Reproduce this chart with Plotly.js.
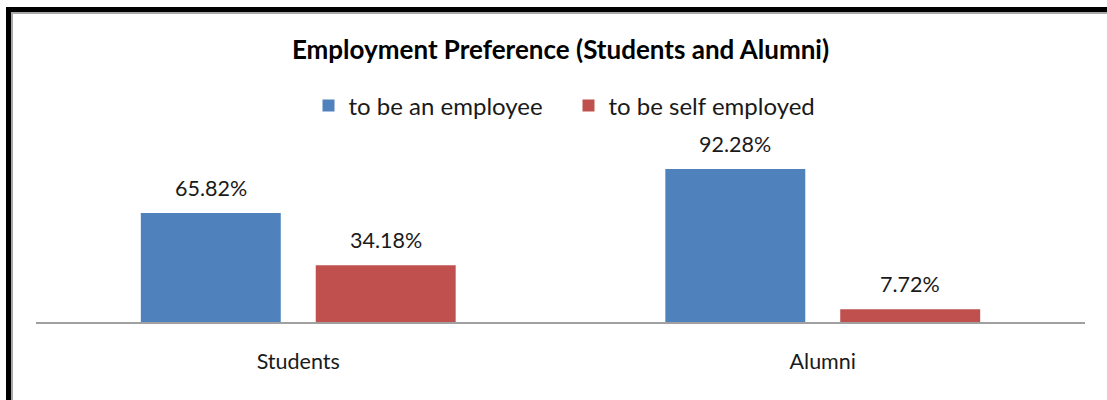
<!DOCTYPE html>
<html>
<head>
<meta charset="utf-8">
<script src="https://cdn.plot.ly/plotly-3.0.1.min.js"></script>
<style>
  html, body { margin: 0; padding: 0; background: #ffffff; }
  #wrap { position: relative; width: 1107px; height: 400px; overflow: hidden; background: #fff; }
  #frame { position: absolute; left: 6px; top: 7px; width: 1110px; height: 391px;
           border-left: 5px solid #000; border-top: 5px solid #000;
           border-bottom: 1px solid #dedede;
           box-shadow: inset 2px 2px 0 #a8a8a8; }
  #chart { position: absolute; left: 0; top: 0; width: 1107px; height: 400px; }
</style>
</head>
<body>
<div id="wrap">
  <div id="frame"></div>
  <div id="chart"></div>
</div>
<script>
const categories = ["Students", "Alumni"];
const seriesNames = ["to be an employee", "to be self employed"];
const employeeValues = [65.82, 92.28];
const selfEmployedValues = [34.18, 7.72];
const seriesColors = ["#4F81BD", "#C0504D"];

const FONT = "Lato, 'Open Sans', sans-serif";
const bargap = 0.333, bargroupgap = 0.2;

const traces = [
  { type: "bar", name: seriesNames[0], x: categories, y: employeeValues,
    marker: { color: seriesColors[0] }, hoverinfo: "skip" },
  { type: "bar", name: seriesNames[1], x: categories, y: selfEmployedValues,
    marker: { color: seriesColors[1] }, hoverinfo: "skip" }
];

// value labels derived from the data; bar centre offset within a category
const slot = (1 - bargap) / 2;
const annotations = [];
[employeeValues, selfEmployedValues].forEach((vals, s) => {
  vals.forEach((v, i) => {
    annotations.push({
      x: i + (s === 0 ? -slot / 2 : slot / 2), y: v, xref: "x", yref: "y",
      text: v.toFixed(2) + "%", showarrow: false, yanchor: "bottom", yshift: 10,
      font: { family: FONT, size: 21.5, color: "#1a1a1a" }
    });
  });
});

const layout = {
  width: 1107, height: 400,
  margin: { l: 36, r: 22, t: 140, b: 78 },
  paper_bgcolor: "rgba(0,0,0,0)", plot_bgcolor: "rgba(0,0,0,0)",
  title: { text: "<b>Employment Preference (Students and Alumni)</b>",
           font: { family: FONT, size: 26, color: "#000" },
           x: 0.5, xref: "paper", xanchor: "center", y: 1 - 50 / 400, yanchor: "middle" },
  barmode: "group", bargap: bargap, bargroupgap: bargroupgap,
  showlegend: true,
  legend: { orientation: "h", x: 0.5 + 8 / 1049, xanchor: "center", y: 1.0 + (140 - 106) / 182, yanchor: "middle",
            font: { family: FONT, size: 24, color: "#1a1a1a" }, traceorder: "normal",
            tracegroupgap: 0, entrywidth: 215, entrywidthmode: "pixels" },
  xaxis: { type: "category", showline: true, linecolor: "#a0a0a0", linewidth: 1.5,
           ticks: "", ticklabelstandoff: 20, showgrid: false, zeroline: false,
           tickfont: { family: FONT, size: 21.5, color: "#1a1a1a" }, fixedrange: true },
  yaxis: { range: [0, 182 / 1.657], visible: false, showgrid: false, zeroline: false, fixedrange: true },
  annotations: annotations
};

Plotly.newPlot("chart", traces, layout, { displayModeBar: false, staticPlot: true });
</script>
</body>
</html>
